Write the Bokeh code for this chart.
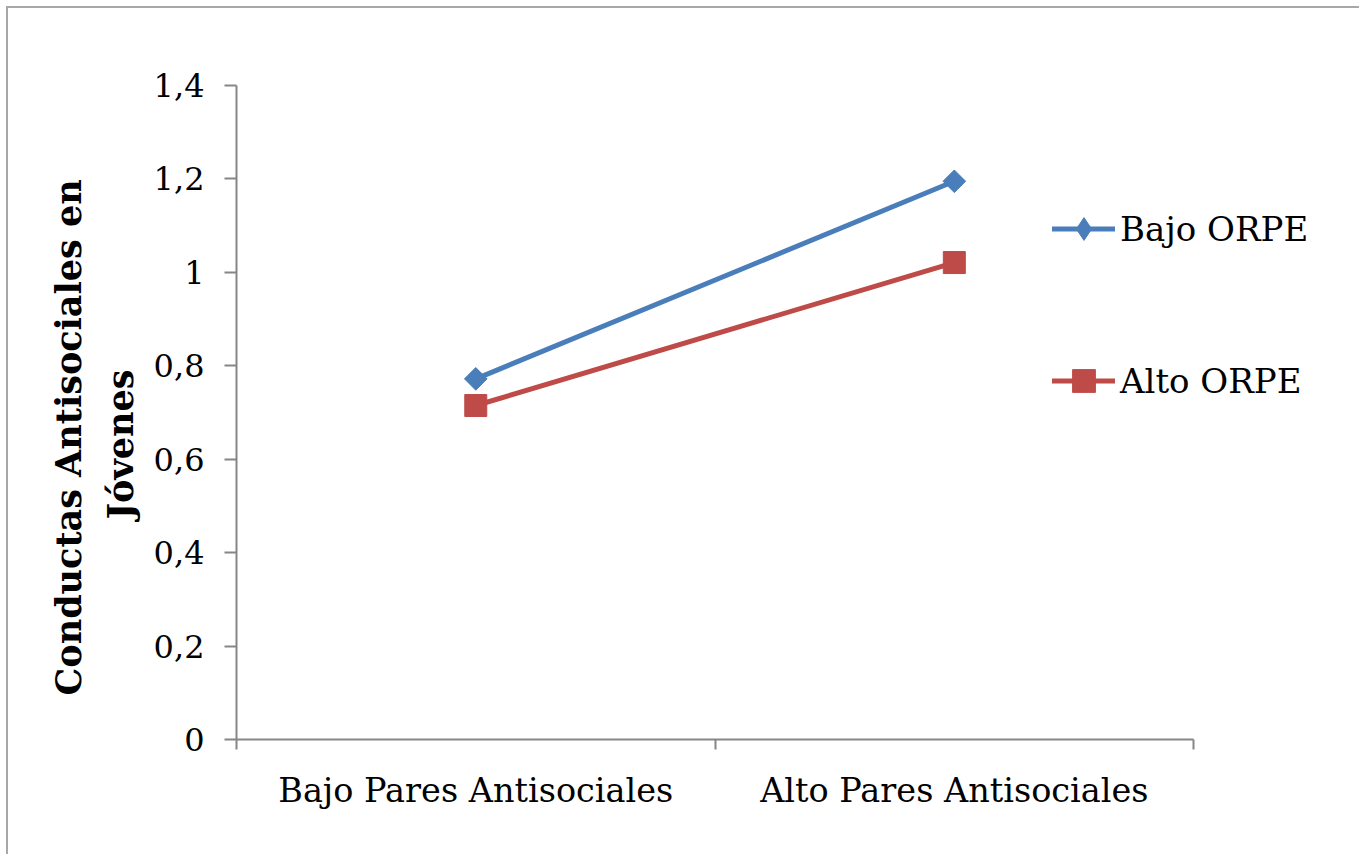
import math
from bokeh.plotting import figure
from bokeh.models import Range1d, FixedTicker, Legend, LegendItem, Title
from bokeh.embed import file_html
from bokeh.resources import INLINE

categories = ["Bajo Pares Antisociales", "Alto Pares Antisociales"]
series_names = ["Bajo ORPE", "Alto ORPE"]
bajo_orpe = [0.772, 1.195]
alto_orpe = [0.715, 1.021]
y_ticks = [0, 0.2, 0.4, 0.6, 0.8, 1, 1.2, 1.4]
y_tick_labels = ["0", "0,2", "0,4", "0,6", "0,8", "1", "1,2", "1,4"]
y_label_lines = ["Conductas Antisociales en", "Jóvenes"]

FONT = "DejaVu Serif"
AXIS_COLOR = "#868686"
BLUE = "#4A7EBB"
RED = "#BE4B48"

n = len(categories)
xs = [i + 0.5 for i in range(n)]
X_END = 2.307  # frame extends to the right so the legend can sit beyond the axis end

p = figure(width=1353, height=848, output_backend="svg", toolbar_location=None,
           x_range=Range1d(0, X_END), y_range=Range1d(0, 1.4),
           min_border_left=228, min_border_right=21, min_border_top=77,
           min_border_bottom=117)
p.styles = {"margin-left": "6px", "margin-top": "6px",
            "border-left": "2px solid #a8a8a8", "border-top": "2px solid #a8a8a8"}
p.outline_line_color = None
p.xgrid.visible = False
p.ygrid.visible = False
p.background_fill_color = "white"
p.border_fill_color = "white"

# y axis
p.yaxis.ticker = FixedTicker(ticks=y_ticks, minor_ticks=[])
p.yaxis.major_label_overrides = {t: l for t, l in zip(y_ticks, y_tick_labels)}
p.yaxis.axis_line_color = AXIS_COLOR
p.yaxis.axis_line_width = 2
p.yaxis.major_tick_line_color = AXIS_COLOR
p.yaxis.major_tick_line_width = 2
p.yaxis.major_tick_out = 12
p.yaxis.major_tick_in = 0
p.yaxis.major_label_standoff = 20
p.yaxis.major_label_text_font = FONT
p.yaxis.major_label_text_font_size = "32px"
p.yaxis.major_label_text_color = "black"

# x axis
p.xaxis.bounds = (0, n)
p.xaxis.ticker = FixedTicker(ticks=xs, minor_ticks=list(range(n + 1)))
p.xaxis.major_label_overrides = {x: c for x, c in zip(xs, categories)}
p.xaxis.axis_line_color = AXIS_COLOR
p.xaxis.axis_line_width = 2
p.xaxis.major_tick_out = 0
p.xaxis.major_tick_in = 0
p.xaxis.major_tick_line_color = None
p.xaxis.minor_tick_line_color = AXIS_COLOR
p.xaxis.minor_tick_line_width = 2
p.xaxis.minor_tick_out = 10
p.xaxis.minor_tick_in = 0
p.xaxis.major_label_standoff = 21
p.xaxis.major_label_text_font = FONT
p.xaxis.major_label_text_font_size = "33.5px"
p.xaxis.major_label_text_color = "black"

# series
l1 = p.line(xs, bajo_orpe, line_color=BLUE, line_width=5, line_cap="round")
m1 = p.scatter(xs, bajo_orpe, marker="square", angle=math.pi / 4, size=16,
               fill_color=BLUE, line_color=BLUE)
l2 = p.line(xs, alto_orpe, line_color=RED, line_width=5, line_cap="round")
m2 = p.scatter(xs, alto_orpe, marker="square", size=22,
               fill_color=RED, line_color=RED)
# legend-only diamond (legend glyphs are drawn unrotated)
d1 = p.scatter(xs, bajo_orpe, marker="diamond", size=25,
               fill_color=BLUE, line_color=BLUE, visible=False)

legend = Legend(items=[LegendItem(label=series_names[0], renderers=[l1, d1]),
                       LegendItem(label=series_names[1], renderers=[l2, m2])],
                location=(816, 330), orientation="vertical",
                glyph_width=63, glyph_height=57, label_height=57, spacing=95,
                padding=0, margin=0, label_standoff=5,
                border_line_color=None, background_fill_alpha=0,
                label_text_font=FONT, label_text_font_size="34px",
                label_text_color="black")
p.add_layout(legend)

# two-line y axis title, each line centred on the same point
t2 = Title(text=y_label_lines[1], align="left", offset=220, standoff=20,
           text_font=FONT, text_font_style="bold", text_font_size="35px",
           text_color="black")
t1 = Title(text=y_label_lines[0], align="left", offset=44, standoff=-3,
           text_font=FONT, text_font_style="bold", text_font_size="35px",
           text_color="black")
p.add_layout(t2, "left")
p.add_layout(t1, "left")

open("out.html", "w").write(file_html(p, INLINE))
